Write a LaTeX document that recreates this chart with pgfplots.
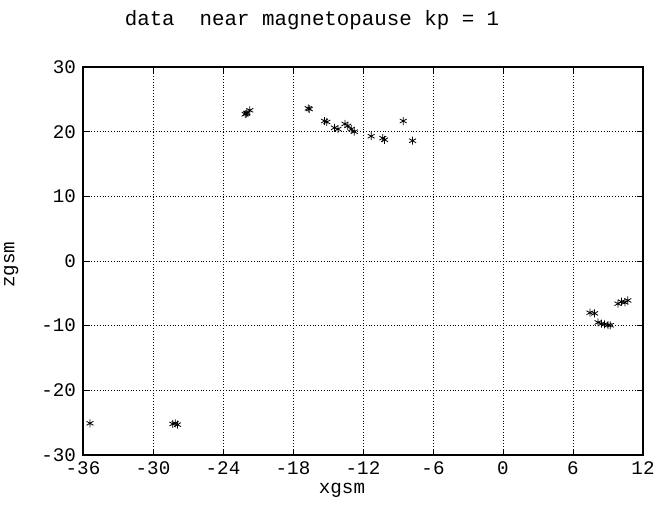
\documentclass[border=0pt]{standalone}
\usepackage{fontspec}
\setmainfont{Liberation Mono}
\usepackage{pgfplots}
\pgfplotsset{compat=1.18}

\begin{document}
\begin{tikzpicture}
\useasboundingbox (0,0) rectangle (328pt,253.5pt);
\begin{axis}[
    at={(41.5pt,26pt)},
    anchor=south west,
    scale only axis,
    width=280pt,
    height=194pt,
    xmin=-36, xmax=12,
    ymin=-30, ymax=30,
    xtick={-36,-30,...,12},
    ytick={-30,-20,...,30},
    /pgf/number format/assume math mode=true,
    tick label style={font=\fontsize{9.6}{11}\selectfont},
    tick align=inside,
    major tick length=3pt,
    tick style={black, thin},
    axis line style={black, semithick},
    grid=major,
    grid style={black, densely dotted, thin},
    every axis title shift=0pt,
    title={data\ \ near magnetopause kp = 1},
    title style={font=\fontsize{10.4}{12}\selectfont, at={(axis description cs:0.409,1.122)}, anchor=center},
    xlabel={xgsm},
    xlabel style={font=\fontsize{9.6}{11}\selectfont, at={(axis description cs:0.4625,-0.09)}, anchor=center},
    ylabel={zgsm},
    ylabel style={font=\fontsize{9.6}{11}\selectfont, at={(axis description cs:-0.128,0.49)}, anchor=center},
]
\addplot[only marks, mark=asterisk, mark size=2pt, black, mark options={line width=0.4pt}] coordinates {
    (-22.1,22.7) (-21.95,22.9) (-21.7,23.3) (-22.0,22.8)
    (-16.7,23.6) (-16.6,23.5)
    (-15.3,21.65) (-15.1,21.5)
    (-14.45,20.6) (-14.15,20.4)
    (-13.55,21.2) (-13.3,20.9) (-13.0,20.4) (-12.75,20.0)
    (-11.3,19.3)
    (-10.3,19.0) (-10.15,18.75)
    (-8.55,21.65)
    (-7.75,18.6)
    (7.45,-8.0) (7.85,-8.1)
    (8.15,-9.5) (8.45,-9.7) (8.7,-9.8) (9.0,-9.9) (9.2,-9.95)
    (9.85,-6.6) (10.15,-6.3) (10.45,-6.4) (10.7,-6.1)
    (-35.4,-25.1)
    (-28.3,-25.2) (-28.1,-25.1) (-27.9,-25.3)
};
\end{axis}
\end{tikzpicture}
\end{document}
